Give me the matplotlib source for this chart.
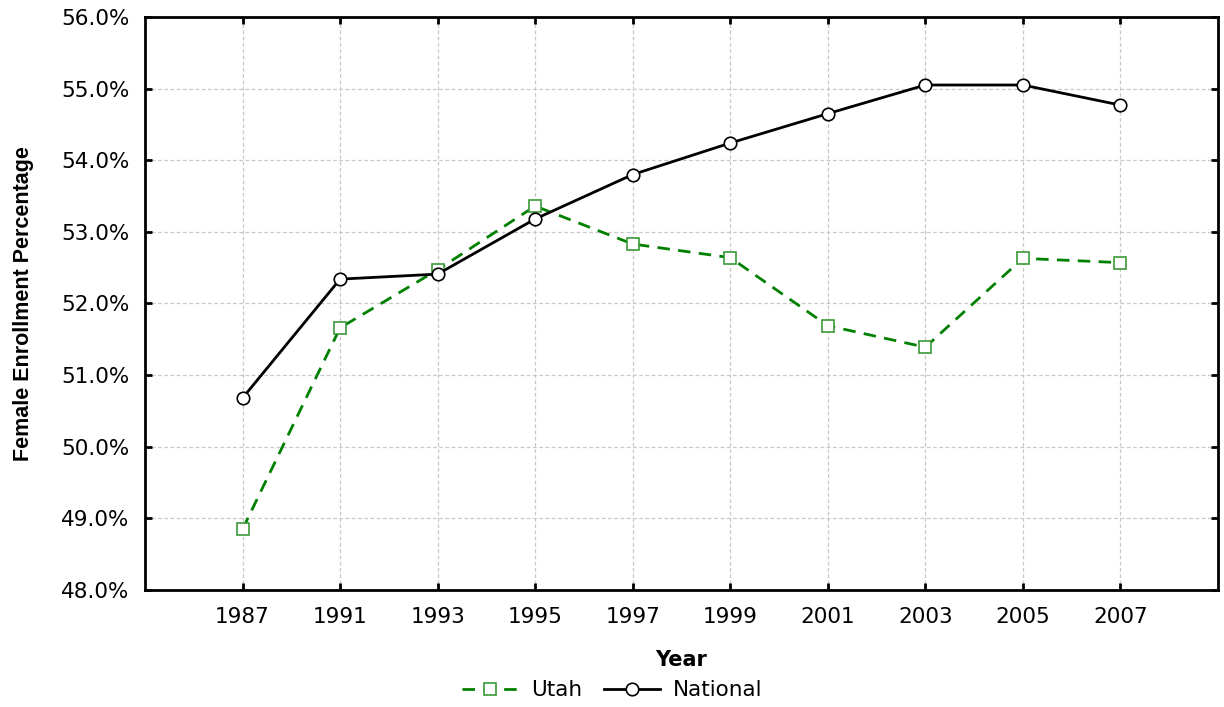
import matplotlib
matplotlib.use("Agg")
import matplotlib.pyplot as plt
from matplotlib.ticker import FuncFormatter

years = ['1987', '1991', '1993', '1995', '1997', '1999', '2001', '2003', '2005', '2007']
utah = [48.85, 51.66, 52.47, 53.36, 52.83, 52.64, 51.69, 51.39, 52.63, 52.57]
national = [50.68, 52.34, 52.41, 53.18, 53.80, 54.24, 54.65, 55.05, 55.05, 54.77]

plt.rcParams['font.family'] = ['DejaVu Sans']

fig = plt.figure(figsize=(12.24, 7.07), dpi=100)
ax = fig.add_axes([0.1185, 0.1655, 0.8765, 0.8105])

pos = list(range(len(years)))
ax.plot(pos, utah, color='#008000', lw=2, ls=(0, (4.5, 3)), marker='s', ms=9,
        mfc='white', mec='#3a9a3a', mew=1.2, label='Utah', zorder=3)
ax.plot(pos, national, color='black', lw=2, marker='o', ms=9,
        mfc='white', mec='black', mew=1.2, label='National', zorder=3)

ax.set_xlim(-1, len(years))
ax.set_ylim(48, 56)
ax.set_xticks(pos)
ax.set_xticklabels(years)
ax.set_yticks(range(48, 57))
ax.yaxis.set_major_formatter(FuncFormatter(lambda v, p: '%.1f%%' % v))

ax.grid(True, color='#c8c8c8', ls=(0, (3, 2)), lw=0.9)
ax.set_axisbelow(True)
for s in ax.spines.values():
    s.set_linewidth(2)
ax.tick_params(direction='in', length=5, width=2, labelsize=15.5,
               top=True, right=True)
ax.tick_params(axis='x', pad=12)
ax.tick_params(axis='y', pad=11)

ax.set_xlabel('Year', fontsize=15, fontweight='bold', labelpad=17)
ax.set_ylabel('Female Enrollment Percentage', family='Liberation Sans',
              fontsize=15.5, fontweight='bold', labelpad=20)

fig.legend(loc='lower center', bbox_to_anchor=(0.5, -0.018), ncol=2, frameon=False,
           fontsize=15.5, handlelength=2.6, columnspacing=1.0, handletextpad=0.6)

plt.savefig('out.png')
plt.close()
